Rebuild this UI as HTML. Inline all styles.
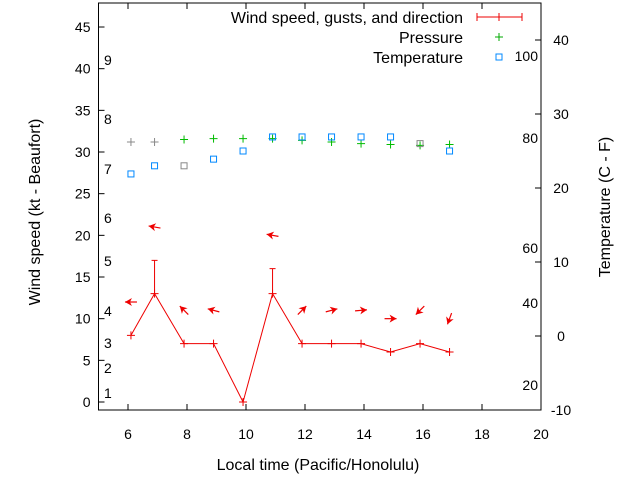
<!DOCTYPE html>
<html><head><meta charset="utf-8"><style>
body{margin:0;background:#fff}
svg{font-family:"Liberation Sans",sans-serif;font-size:14px}
.big{font-size:16px}
</style></head><body>
<svg id="c" width="640" height="480">
<g id="axes"></g><g id="marks"></g>
</svg>
<script>
const times=[6.1,6.9,7.9,8.9,9.9,10.9,11.9,12.9,13.9,14.9,15.9,16.9];
const windKt=[8,13,7,7,0,13,7,7,7,6,7,6];
const gustTimes=[6.9,10.9];
const gustKt=[17,16];
const pressure=[31.2,31.2,31.5,31.6,31.6,31.6,31.4,31.2,31.0,30.9,30.8,30.9];
const pressureGray=[1,1,0,0,0,0,0,0,0,0,0,0];
const tempC=[21.9,23.0,23.0,23.9,25.0,26.9,26.9,26.9,26.9,26.9,26.0,25.0];
const tempGray=[0,0,1,0,0,0,0,0,0,0,1,0];
const arrowTimes=[6.1,6.9,7.9,8.9,10.9,11.9,12.9,13.9,14.9,15.9,16.9];
const arrowY=[12,21,11,11,20,11,11,11,10,11,10];
const arrowDir=[180,170,135,165,170,45,15,5,0,-135,-110];
const xTicks=[6,8,10,12,14,16,18,20];
const yTicks=[0,5,10,15,20,25,30,35,40,45];
const y2Ticks=[-10,0,10,20,30,40];
const beaufort=[["1",393],["2",368],["3",343],["4",311],["5",261],["6",218],["7",169],["8",119],["9",60]];
const fahr=[["20",385],["40",303],["60",248],["80",138],["100",56]];
const L=98.5,R=541,T=3,B=410;
const X=v=>128+(v-6)*29.5;
const Y=v=>402-v*8.333;
const Y2=v=>336-v*7.4;
const NS="http://www.w3.org/2000/svg";
const ax=document.getElementById('axes'),mk=document.getElementById('marks');
function el(p,t,a,txt){const e=document.createElementNS(NS,t);for(const k in a)e.setAttribute(k,a[k]);if(txt!==undefined)e.textContent=txt;p.appendChild(e);return e;}
let f=el(ax,'rect',{x:L,y:T,width:R-L,height:B-T,fill:'none',stroke:'#000'});

xTicks.forEach(v=>{el(ax,'line',{x1:X(v),x2:X(v),y1:B,y2:B-6,stroke:'#000'});el(ax,'line',{x1:X(v),x2:X(v),y1:T,y2:T+6,stroke:'#000'});
 let t=el(ax,'text',{x:X(v),y:439,'text-anchor':'middle'},v);});
yTicks.forEach(v=>{el(ax,'line',{x1:L,x2:L+6,y1:Y(v),y2:Y(v),stroke:'#000'});
 let t=el(ax,'text',{x:L-8,y:Y(v)+5,'text-anchor':'end'},v);});
y2Ticks.forEach(v=>{el(ax,'line',{x1:R-6,x2:R,y1:Y2(v),y2:Y2(v),stroke:'#000'});
 let t=el(ax,'text',{x:R+20,y:Y2(v)+5,'text-anchor':'middle'},v);});
beaufort.forEach(b=>{let t=el(ax,'text',{x:104,y:b[1]+5},b[0]);});
fahr.forEach(b=>{let t=el(ax,'text',{x:538,y:b[1]+5,'text-anchor':'end'},b[0]);});
let xt=el(ax,'text',{x:318,y:470,'text-anchor':'middle','class':'big'},'Local time (Pacific/Honolulu)');
let yt=el(ax,'text',{x:40,y:212,'text-anchor':'middle','class':'big',transform:'rotate(-90 40 212)'},'Wind speed (kt - Beaufort)');
let y2t=el(ax,'text',{x:610,y:207,'text-anchor':'middle','class':'big',transform:'rotate(-90 610 207)'},'Temperature (C - F)');
[['Wind speed, gusts, and direction',17],['Pressure',37],['Temperature',57]].forEach(l=>{let t=el(ax,'text',{x:463,y:l[1]+6,'text-anchor':'end','class':'big'},l[0]);});
el(ax,'path',{d:'M477 17H522M477 13V21M522 13V21M499 13V21',stroke:'#e00',fill:'none'});
el(ax,'path',{d:'M495 37H503M499 33V41',stroke:'#0a0',fill:'none'});
el(ax,'rect',{x:496,y:54,width:6,height:6,fill:'none',stroke:'#08f'});
let pts=times.map((t,i)=>X(t)+','+Y(windKt[i])).join(' ');
let wl=el(mk,'polyline',{points:pts,fill:'none',stroke:'#e00'});
times.forEach((t,i)=>{let p=el(mk,'path',{d:`M${X(t)-4} ${Y(windKt[i])}h8M${X(t)} ${Y(windKt[i])-4}v8`,stroke:'#e00'});});
gustTimes.forEach((t,i)=>{const w=windKt[times.indexOf(t)];let p=el(mk,'path',{d:`M${X(t)} ${Y(w)}V${Y(gustKt[i])}M${X(t)-3} ${Y(gustKt[i])}h6`,stroke:'#e00',fill:'none'});});
pressure.forEach((v,i)=>{let c=pressureGray[i]?'#888':'#0b0';let p=el(mk,'path',{d:`M${X(times[i])-4} ${Y(v)}h8M${X(times[i])} ${Y(v)-4}v8`,stroke:c});});
tempC.forEach((v,i)=>{let c=tempGray[i]?'#888':'#08f';let p=el(mk,'rect',{x:X(times[i])-3,y:Y2(v)-3,width:6,height:6,fill:'none',stroke:c});});
arrowTimes.forEach((t,i)=>{const cx=X(t),cy=Y(arrowY[i]),a=arrowDir[i]*Math.PI/180,dx=Math.cos(a),dy=-Math.sin(a);
 const x1=cx-dx*6,y1=cy-dy*6,x2=cx+dx*6,y2=cy+dy*6;
 const hx=x2-dx*7,hy=y2-dy*7,px=-dy*4,py=dx*4;
 let g=el(mk,'g',{});
 el(g,'line',{x1,y1,x2,y2,stroke:'#e00','stroke-width':1.2});
 el(g,'polygon',{points:`${x2},${y2} ${hx+px},${hy+py} ${hx+dx*2},${hy+dy*2} ${hx-px},${hy-py}`,fill:'#e00'});});
</script>
</body></html>
